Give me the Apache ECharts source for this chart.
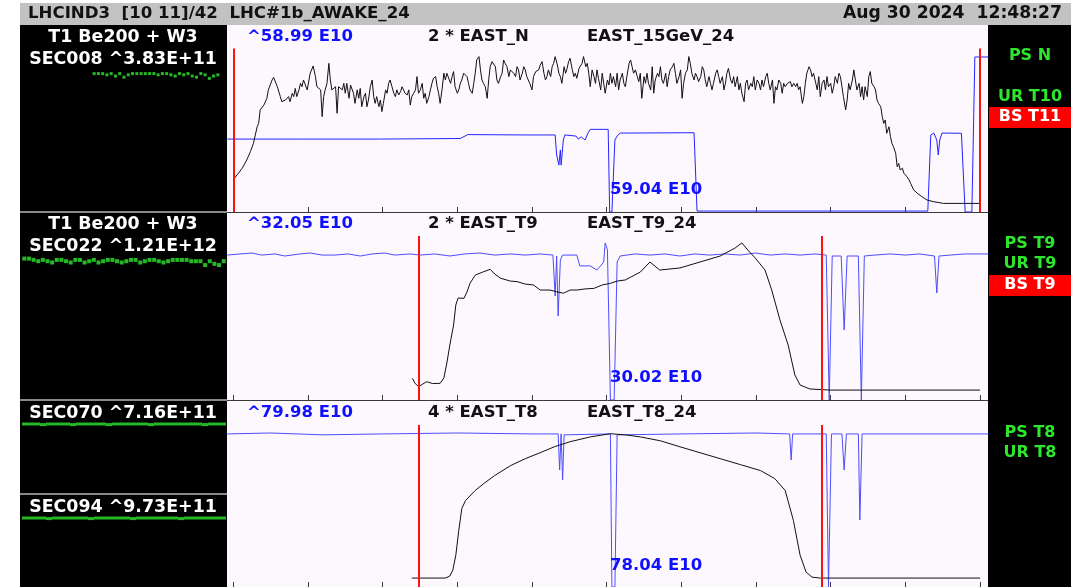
<!DOCTYPE html>
<html>
<head>
<meta charset="utf-8">
<script src="https://cdn.jsdelivr.net/npm/echarts@6/dist/echarts.min.js"></script>
<style>
  html, body { margin: 0; padding: 0; background: #ffffff; }
  #chart { width: 1071px; height: 587px; }
</style>
</head>
<body>
<div id="chart"></div>
<script>
// Time axis ticks (ms in the cycle)
const tickTimes = [0, 100, 200, 300, 400, 500, 600, 700, 800, 900, 1000];

// EAST_N: beam intensity (% full scale) and spill monitor
const eastNBeam = [[0,17.1],[5,19.8],[12,23.4],[18,27.8],[23,32.3],[27,36.7],[32,45.6],[34,47.4],[36,54.6],[41,57.2],[45,60.8],[47,65.3],[52,70.6],[54,72.0],[59,67.0],[63,61.7],[65,59.0],[70,59.9],[74,61.7],[76,59.0],[79,63.5],[81,61.7],[83,66.1],[85,61.7],[88,65.3],[90,68.8],[92,67.0],[94,70.6],[99,65.3],[103,74.2],[107,78.1],[110,72.4],[112,67.0],[117,65.3],[119,51.0],[121,61.7],[123,65.3],[125.5,68.8],[128,79.5],[130,70.6],[132,65.3],[134,64.4],[137,67.0],[139,52.8],[141,67.0],[146,65.3],[148,68.8],[150,63.5],[152,68.8],[155,60.8],[157,67.9],[159,68.8],[161,63.5],[163,58.1],[166,65.3],[168,60.8],[170,66.1],[172,56.3],[175,61.7],[177,63.5],[179,56.3],[181,59.9],[183.5,67.0],[186,70.6],[188,61.7],[190,58.1],[192,61.7],[195,56.3],[197,59.9],[199,53.7],[201,58.1],[204,65.3],[206,63.5],[208,68.8],[210,70.6],[212.5,67.0],[215,63.5],[217,61.7],[219,65.3],[221.5,62.6],[224,64.4],[226,67.0],[228,65.3],[230,63.5],[233,62.6],[235,65.3],[237,57.2],[239,61.7],[241.5,63.5],[244,65.3],[246,72.4],[248,63.5],[250.5,65.3],[253,68.8],[255,60.8],[257,63.5],[259,58.1],[262,61.7],[264,65.3],[266,68.8],[268,71.5],[271,72.4],[273,67.0],[275,63.5],[277,58.1],[279.5,65.3],[282,74.2],[284,70.6],[286,74.2],[288,75.1],[291,68.8],[293,72.4],[295,75.1],[297,67.0],[300,63.5],[302,65.3],[304,68.8],[306,70.6],[308.5,74.2],[311,75.1],[313,72.4],[315,68.8],[317,65.3],[320,63.5],[322,68.8],[324,74.2],[326,81.3],[329,83.1],[331,76.0],[333,70.6],[335,68.8],[337.5,67.0],[340,60.8],[342,70.6],[344,77.7],[346.5,80.4],[349,81.3],[351,77.7],[353,70.6],[355,68.8],[358,72.4],[360,74.2],[362,81.3],[364,79.5],[366.5,77.7],[369,72.4],[371,76.0],[373,76.8],[375.5,74.2],[378,72.4],[380,77.7],[382,76.0],[384,70.6],[387,74.2],[389,77.7],[391,76.0],[393,72.4],[397,68.8],[400,65.3],[402,72.4],[405,75.1],[407,74.2],[409,76.0],[411,78.6],[413.5,80.4],[416,74.2],[418,70.6],[420,72.4],[422,76.0],[425,72.4],[427,77.7],[429,79.5],[431,83.1],[434,78.6],[436,74.2],[438,72.4],[440,68.8],[443,77.7],[445,74.2],[447,76.8],[449,80.4],[451,82.2],[454,76.0],[456,72.4],[458,74.2],[460,71.5],[463,76.8],[465,77.7],[467,79.5],[469,83.1],[472,77.7],[474,79.5],[476,74.2],[478,67.0],[480.5,76.0],[483,72.4],[485,68.8],[487,76.0],[489,71.5],[492,65.3],[494,74.2],[496,68.8],[498,63.5],[501,70.6],[503,67.9],[505,74.2],[507,68.8],[509,72.4],[512,67.0],[514,74.2],[516,65.3],[518,70.6],[521,74.2],[523,68.8],[525,67.0],[527,72.4],[530,79.5],[532,81.3],[534,77.7],[536,74.2],[538.5,76.0],[541,72.4],[543,69.7],[545,74.2],[547,60.8],[550,72.4],[552,68.8],[554,74.2],[556,68.8],[559,65.3],[561,77.7],[563,63.5],[565,70.6],[568,74.2],[570,72.4],[572,77.7],[574,70.6],[576,68.8],[579,74.2],[581,67.0],[583,72.4],[585,76.0],[588,77.7],[590,79.5],[592,74.2],[594,68.8],[597,72.4],[599,76.0],[601,60.8],[603,68.8],[605.5,74.2],[608,76.0],[610,83.1],[612,79.5],[614,74.2],[617,70.6],[619,74.2],[621,72.4],[623,69.7],[626,72.4],[628,77.7],[630,76.0],[632,70.6],[634,67.0],[637,72.4],[639,68.8],[641,65.3],[643,68.8],[646,74.2],[648,76.0],[650,72.4],[652,68.8],[655,72.4],[657,65.3],[659,68.8],[661,74.2],[663,76.8],[666,70.6],[668,68.8],[670,72.4],[672,67.0],[675,72.4],[677,65.3],[679,68.8],[681,63.5],[684,59.0],[686,68.8],[688,70.6],[690,65.3],[693,68.8],[695,67.0],[697,72.4],[699,65.3],[701.5,70.6],[704,68.8],[706,65.3],[708,70.6],[710,67.0],[713,72.4],[715,74.2],[717,68.8],[719,65.3],[722,70.6],[724,58.1],[726,67.0],[728,65.3],[730.5,70.6],[733,68.8],[735,63.5],[737,68.8],[739,67.0],[742,68.8],[744,67.9],[746,69.7],[748,67.0],[750.5,68.8],[753,67.0],[755,68.8],[757,65.3],[759,67.0],[762,58.1],[764,61.7],[766,68.8],[768,74.2],[771,77.7],[773,76.0],[775,72.4],[777,74.2],[780,68.8],[782,65.3],[784,72.4],[786,61.7],[788.5,68.8],[791,70.6],[793,65.3],[795,72.4],[797,67.0],[800,68.8],[802,63.5],[804,67.0],[806,72.4],[809,68.8],[811,74.2],[813,72.4],[815,67.0],[817,61.7],[820,54.6],[822,59.9],[824,68.8],[826,65.3],[829,70.6],[831,76.0],[833,70.6],[835,65.3],[838,68.8],[840,61.7],[842,67.0],[844,59.9],[846,67.0],[849,61.7],[851,72.4],[853,75.1],[855,68.8],[858,67.0],[860,65.3],[862,59.9],[864,58.1],[867,56.3],[869,51.0],[871,47.4],[873,49.2],[875,42.1],[878,45.6],[880,40.3],[882,36.7],[884,34.9],[887,31.4],[889,24.2],[891,26.0],[893,22.5],[896,23.4],[898,20.7],[900,21.6],[902,18.9],[905,17.1],[907,15.3],[911,11.8],[916,10.0],[922,8.2],[929,6.4],[938,5.5],[951,4.6],[1000,4.6]];
const eastNSpill = [[-8,39.0],[89,39.0],[196,39.0],[304,39.3],[314,41.4],[393,41.2],[431,41.2],[433,30.5],[436,25.1],[438,33.2],[439,25.1],[442,38.5],[444,41.2],[459,40.6],[462,39.0],[466,40.1],[471,38.5],[475,42.2],[478,44.2],[502,44.2],[504,0],[507,0],[511,38.5],[514,40.6],[518,42.2],[617,42.4],[621,0.5],[930,0.5],[934,41.2],[938,42.2],[942,38.5],[944,30.5],[946,38.5],[949,42.2],[975,42.1],[976,41.2],[980,0],[989,0],[993,82.9],[1011,82.9]];
const eastNGates = [0, 1000];

// EAST_T9
const eastT9Beam = [[240,11.6],[243,9.1],[248,7.1],[254,8.6],[259,9.8],[267,8.8],[277,8.9],[282,11.8],[286,19.8],[290,29.4],[295,40.1],[298,50.8],[301,54.5],[309,54.4],[313,57.8],[317,62.4],[324,66.8],[334,68.4],[344,69.9],[350,67.4],[358,65.1],[371,63.6],[380,63.3],[391,62.0],[402,61.5],[411,58.8],[424,58.8],[433,57.9],[442,57.1],[451,58.8],[460,58.8],[471,59.4],[483,59.7],[494,61.5],[505,62.4],[514,63.6],[525,64.2],[545,68.4],[558,73.8],[571,69.5],[598,70.6],[625,73.8],[652,77.0],[672,81.3],[681,84.0],[689,80.2],[699,75.9],[712,69.5],[721,58.8],[732,42.8],[743,29.4],[752,13.4],[759,8.0],[772,5.9],[799,5.3],[1000,5.3]];
const eastT9Spill = [[-8,77.5],[9,78.1],[25,78.6],[38,77.5],[56,78.1],[69,77.0],[89,78.1],[103,78.6],[119,77.5],[136,77.5],[154,78.1],[170,77.0],[186,78.1],[203,78.6],[216,77.5],[237,78.1],[250,77.5],[270,78.1],[290,77.0],[310,78.1],[330,78.6],[350,77.5],[371,78.1],[391,77.5],[411,78.1],[428,77.5],[431,55.6],[433,77.0],[435,44.9],[438,74.9],[441,77.5],[460,77.5],[464,71.7],[478,71.7],[487,69.5],[496,73.8],[498,84.0],[501,80.2],[505,0],[510,0],[514,73.8],[518,77.0],[538,78.1],[558,77.5],[578,78.1],[598,77.0],[618,78.1],[638,77.5],[658,78.1],[679,77.5],[699,78.6],[719,77.5],[739,78.1],[759,77.5],[779,78.1],[794,77.5],[798,0],[802,77.0],[814,77.0],[818,37.4],[822,77.0],[837,77.0],[841,0],[845,77.0],[859,77.5],[880,78.1],[900,77.5],[919,78.1],[939,77.0],[942,57.2],[945,77.0],[960,77.5],[980,78.1],[1011,78.1]];
const eastT9Gates = [249, 788];

// EAST_T8
const eastT8Beam = [[239,4.8],[284,4.8],[290,5.9],[294,9.1],[298,17.1],[302,30.5],[306,42.2],[311,46.5],[324,51.9],[337,56.1],[350,59.9],[371,65.2],[391,69.0],[411,72.2],[430,75.4],[451,78.1],[478,80.7],[505,82.4],[525,81.8],[545,80.7],[572,78.6],[598,75.4],[625,72.2],[652,69.0],[679,65.8],[706,62.6],[725,58.3],[739,51.9],[750,35.8],[759,17.1],[767,8.0],[775,5.3],[786,4.8],[1000,4.8]];
const eastT8Spill = [[-8,82.3],[50,82.8],[120,81.8],[200,82.3],[300,82.8],[400,82.3],[435,82.3],[437,62.9],[439,82.3],[441,57.5],[443,81.8],[505,82.3],[507,0],[511,0],[514,81.8],[600,82.3],[700,82.8],[745,82.3],[747,68.3],[749,82.3],[794,82.3],[797,0],[801,82.3],[815,82.3],[818,62.9],[821,82.3],[837,82.3],[839,36.0],[842,82.3],[900,82.3],[1011,82.3]];
const eastT8Gates = [249, 788];

// Secondary emission monitors (per extraction, arbitrary units)
const sec008 = [7,7,7,6,7,5,7,4,6,7,7,7,7,7,7,6,7,7,6,5,7,6,7,5,4,7,6,3,5,6];
const sec022 = [8,8,7,6,7,6,5,7,7,6,5,7,7,5,6,7,5,6,7,7,6,5,6,7,7,5,6,7,7,6,5,6,7,7,7,7,6,6,6,3,6,4,3,6];
const sec070 = [5,5,5,4,5,5,5,5,4,5,5,5,5,5,4,5,5,5,5,5,5,4,5,5,5,5,5,5,5,5,4,5,5,5];
const sec094 = [5,5,5,5,4,5,5,5,5,5,5,4,5,5,5,5,5,5,4,5,5,5,5,5,5,5,4,5,5,5,5,5,5,5];

const FONT = '"DejaVu Sans", "Liberation Sans", sans-serif';
const BLUE = '#2424ff';
const GREEN = '#2ee62e';
const PLOT_BG = '#fdf8fd';

const panelGrids = [
  { left: 227, width: 761, top: 25, height: 187 },
  { left: 227, width: 761, top: 213, height: 187 },
  { left: 227, width: 761, top: 401, height: 186 }
];
const secGrids = [
  { left: 92, width: 128, top: 70, height: 12 },
  { left: 22, width: 204, top: 256, height: 13 },
  { left: 22, width: 204, top: 421, height: 6 },
  { left: 22, width: 204, top: 515, height: 6 }
];

const chart = echarts.init(document.getElementById('chart'), null, { renderer: 'canvas' });

function panelXAxis(i) {
  return {
    type: 'value', gridIndex: i, min: -8.4, max: 1010.6,
    axisLine: { show: true, lineStyle: { color: '#3a3a3a', width: 1 } },
    axisTick: { show: true, inside: true, length: 5, customValues: tickTimes, lineStyle: { color: '#3a3a3a' } },
    axisLabel: { show: false },
    splitLine: { show: false }
  };
}
function panelYAxis(i) {
  return { type: 'value', gridIndex: i, min: 0, max: 100, show: false, splitLine: { show: false } };
}
function gateMark(gates, top) {
  return {
    silent: true, symbol: 'none', animation: false,
    label: { show: false },
    lineStyle: { color: '#ff1010', width: 2, type: 'solid' },
    data: gates.map(g => [{ coord: [g, 0] }, { coord: [g, top] }])
  };
}
function lineSeries(i, data, color, width, mark) {
  const s = {
    type: 'line', xAxisIndex: i, yAxisIndex: i, data: data,
    showSymbol: false, symbol: 'none', animation: false, silent: true,
    lineStyle: { color: color, width: width }, z: 3
  };
  if (mark) s.markLine = mark;
  return s;
}
function secSeries(k, values, size) {
  return {
    type: 'scatter', xAxisIndex: 3 + k, yAxisIndex: 3 + k,
    data: values.map((v, j) => [j, v]),
    symbol: 'rect', symbolSize: size, animation: false, silent: true,
    itemStyle: { color: GREEN }
  };
}

function txt(x, y, text, color, size, align) {
  return {
    type: 'text', x: x, y: y, z: 100,
    style: {
      text: text, fill: color, font: 'bold ' + size + 'px ' + FONT,
      textAlign: align || 'left', textVerticalAlign: 'middle'
    }
  };
}
function rect(x, y, w, h, color, z) {
  return { type: 'rect', shape: { x: x, y: y, width: w, height: h }, style: { fill: color }, z: z || 1, silent: true };
}

const graphics = [
  rect(20, 3, 1051, 22, '#c2c2c2'),
  rect(20, 25, 207, 562, '#000000'),
  rect(988, 25, 83, 562, '#000000'),
  rect(20, 211, 207, 2, '#8a8a8a', 2),
  rect(20, 399, 207, 2, '#8a8a8a', 2),
  rect(20, 493, 207, 2, '#8a8a8a', 2),
  rect(989, 107, 82, 21, '#ff0000', 2),
  rect(989, 275, 82, 21, '#ff0000', 2),

  txt(28, 14, 'LHCIND3  [10 11]/42  LHC#1b_AWAKE_24', '#111111', 16.6),
  txt(1062, 14, 'Aug 30 2024  12:48:27', '#111111', 17.2, 'right'),

  txt(123, 37, 'T1 Be200 + W3', '#ffffff', 17.4, 'center'),
  txt(123, 59, 'SEC008 ^3.83E+11', '#ffffff', 17.4, 'center'),
  txt(123, 224, 'T1 Be200 + W3', '#ffffff', 17.4, 'center'),
  txt(123, 246, 'SEC022 ^1.21E+12', '#ffffff', 17.4, 'center'),
  txt(123, 413, 'SEC070 ^7.16E+11', '#ffffff', 17.4, 'center'),
  txt(123, 507, 'SEC094 ^9.73E+11', '#ffffff', 17.4, 'center'),

  txt(247, 37, '^58.99 E10', '#1010ff', 16.5),
  txt(428, 37, '2 * EAST_N', '#111111', 16.5),
  txt(587, 37, 'EAST_15GeV_24', '#111111', 16.5),
  txt(610, 190, '59.04 E10', '#1010ff', 16.5),

  txt(247, 224, '^32.05 E10', '#1010ff', 16.5),
  txt(428, 224, '2 * EAST_T9', '#111111', 16.5),
  txt(587, 224, 'EAST_T9_24', '#111111', 16.5),
  txt(610, 378, '30.02 E10', '#1010ff', 16.5),

  txt(247, 413, '^79.98 E10', '#1010ff', 16.5),
  txt(428, 413, '4 * EAST_T8', '#111111', 16.5),
  txt(587, 413, 'EAST_T8_24', '#111111', 16.5),
  txt(610, 566, '78.04 E10', '#1010ff', 16.5),

  txt(1030, 56, 'PS N', GREEN, 16, 'center'),
  txt(1030, 97, 'UR T10', GREEN, 16, 'center'),
  txt(1030, 117, 'BS T11', '#ffffff', 16, 'center'),
  txt(1030, 244, 'PS T9', GREEN, 16, 'center'),
  txt(1030, 264, 'UR T9', GREEN, 16, 'center'),
  txt(1030, 285, 'BS T9', '#ffffff', 16, 'center'),
  txt(1030, 433, 'PS T8', GREEN, 16, 'center'),
  txt(1030, 453, 'UR T8', GREEN, 16, 'center')
];

const grids = panelGrids.map(g => Object.assign({ show: true, backgroundColor: PLOT_BG, borderWidth: 0, containLabel: false }, g))
  .concat(secGrids.map(g => Object.assign({ show: false, containLabel: false }, g)));

const secLens = [sec008.length, sec022.length, sec070.length, sec094.length];
const xAxes = [0, 1, 2].map(panelXAxis).concat(secLens.map((n, k) => ({
  type: 'value', gridIndex: 3 + k, min: -0.5, max: n - 0.5, show: false
})));
const yAxes = [0, 1, 2].map(panelYAxis).concat([0, 1, 2, 3].map(k => ({
  type: 'value', gridIndex: 3 + k, min: 0, max: 10, show: false
})));

chart.setOption({
  animation: false,
  backgroundColor: '#ffffff',
  grid: grids,
  xAxis: xAxes,
  yAxis: yAxes,
  graphic: { elements: graphics },
  series: [
    lineSeries(0, eastNSpill, BLUE, 1),
    lineSeries(0, eastNBeam, '#111111', 1, gateMark(eastNGates, 87.5)),
    lineSeries(1, eastT9Spill, '#4d4dff', 1),
    lineSeries(1, eastT9Beam, '#111111', 1, gateMark(eastT9Gates, 87.7)),
    lineSeries(2, eastT8Spill, '#4d4dff', 1),
    lineSeries(2, eastT8Beam, '#111111', 1, gateMark(eastT8Gates, 87.1)),
    secSeries(0, sec008, [3, 3]),
    secSeries(1, sec022, [4, 4]),
    secSeries(2, sec070, [6, 3]),
    secSeries(3, sec094, [6, 3])
  ]
});
</script>
</body>
</html>
